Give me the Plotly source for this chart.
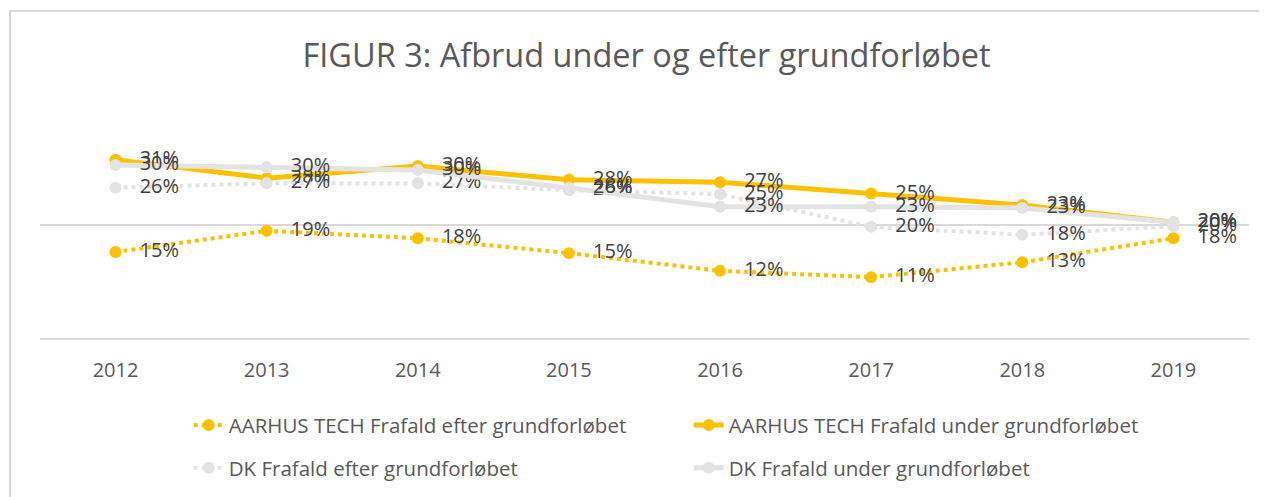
import plotly.graph_objects as go

years = ["2012", "2013", "2014", "2015", "2016", "2017", "2018", "2019"]

aarhus_efter = [15.2, 18.9, 17.6, 15.0, 11.9, 10.8, 13.4, 17.6]
aarhus_under = [31.3, 28.1, 30.2, 27.8, 27.4, 25.4, 23.4, 20.4]
dk_efter = [26.4, 27.2, 27.2, 26.0, 25.3, 19.6, 18.2, 19.7]
dk_under = [30.4, 30.0, 29.5, 26.4, 23.1, 23.1, 22.9, 20.4]

YELLOW = "#FFC000"
GREY = "#E3E3E3"
LABEL = "#404040"
FONT = "Open Sans"

fig = go.Figure()


def add_series(name, values, color, dash, width, legend):
    fig.add_trace(go.Scatter(
        x=years,
        y=values,
        name=name,
        mode="lines+markers+text",
        line=dict(color=color, width=width, dash=dash),
        marker=dict(color=color, size=12),
        texttemplate="   %{y:.0f}%",
        textposition="middle right",
        textfont=dict(family=FONT, size=20, color=LABEL),
        legend=legend,
        cliponaxis=False,
    ))


add_series("AARHUS TECH Frafald efter grundforløbet", aarhus_efter, YELLOW, "dot", 4, "legend")
add_series("AARHUS TECH Frafald under grundforløbet", aarhus_under, YELLOW, "solid", 5, "legend")
add_series("DK Frafald efter grundforløbet", dk_efter, GREY, "dot", 4, "legend2")
add_series("DK Frafald under grundforløbet", dk_under, GREY, "solid", 5, "legend2")

legend_style = dict(
    orientation="h",
    x=0.123,
    xanchor="left",
    yanchor="middle",
    entrywidth=455,
    font=dict(family=FONT, size=20.5, color="#595959"),
    bgcolor="rgba(0,0,0,0)",
)

fig.update_layout(
    width=1267,
    height=497,
    margin=dict(l=32, r=26, t=102, b=166),
    paper_bgcolor="white",
    plot_bgcolor="white",
    title=dict(
        text="FIGUR 3: Afbrud under og efter grundforløbet",
        x=0.504,
        xanchor="center",
        y=0.905,
        yanchor="middle",
        font=dict(family=FONT, size=32.5, color="#595959"),
    ),
    xaxis=dict(
        type="category",
        range=[-0.5, len(years) - 0.5],
        showgrid=False,
        showline=False,
        ticks="",
        ticklabelstandoff=17,
        tickfont=dict(family=FONT, size=20, color="#595959"),
    ),
    yaxis=dict(
        range=[0, 40],
        dtick=20,
        showticklabels=False,
        gridcolor="#D9D9D9",
        gridwidth=1.5,
        zeroline=True,
        zerolinecolor="#D9D9D9",
        zerolinewidth=1.5,
    ),
    legend=dict(y=-0.376, **legend_style),
    legend2=dict(y=-0.563, **legend_style),
    shapes=[dict(
        type="rect",
        xref="paper",
        yref="paper",
        x0=-0.0248,
        x1=1.05,
        y0=-0.8,
        y1=1.432,
        line=dict(color="#D9D9D9", width=2),
        layer="below",
    )],
)

fig.write_html("out.html")
